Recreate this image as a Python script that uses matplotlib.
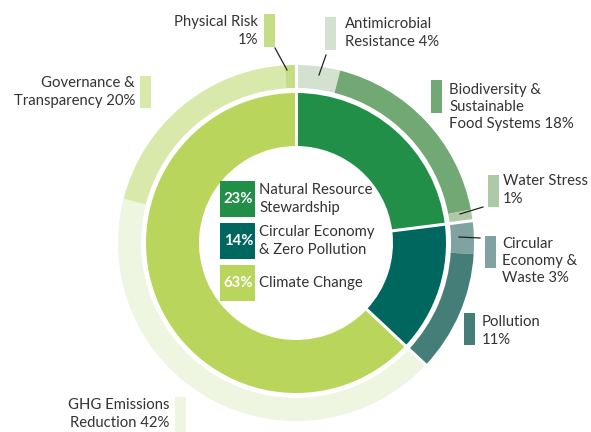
import numpy as np
import matplotlib
matplotlib.use("Agg")
import matplotlib.pyplot as plt
from matplotlib.patches import Rectangle

# ---------------- data ----------------
inner_labels = ["Natural Resource\nStewardship", "Circular Economy\n& Zero Pollution", "Climate Change"]
inner_values = [23, 14, 63]
inner_colors = ["#218f47", "#00675f", "#b9d55c"]

outer_labels = ["Antimicrobial\nResistance 4%", "Biodiversity &\nSustainable\nFood Systems 18%",
                "Water Stress\n1%", "Circular\nEconomy &\nWaste 3%", "Pollution\n11%",
                "GHG Emissions\nReduction 42%", "Governance &\nTransparency 20%", "Physical Risk\n1%"]
outer_values = [4, 18, 1, 3, 11, 42, 20, 1]
outer_colors = ["#d4e1d1", "#72a873", "#aec9a7", "#80a2a0", "#457d79",
                "#eef5e0", "#d9e8ab", "#c4de86"]

W, H = 591, 432
plt.rcParams['font.family'] = ['Lato', 'DejaVu Sans']
fig = plt.figure(figsize=(W / 100, H / 100), dpi=100)
ax = fig.add_axes([0, 0, 1, 1])

def P(x, y):
    return (x, H - y)

cx, cy = 296, 243
R_out, w_out = 178, 23
R_in, w_in = 150, 53

ax.pie(outer_values, radius=R_out, center=P(cx, cy), startangle=90, counterclock=False,
       colors=outer_colors, wedgeprops=dict(width=w_out, linewidth=0))
ax.pie(inner_values, radius=R_in, center=P(cx, cy), startangle=90, counterclock=False,
       colors=inner_colors, wedgeprops=dict(width=w_in, linewidth=0))

# white separators at the inner category boundaries (through both rings)
bounds = np.concatenate([[0], np.cumsum(inner_values)[:-1]])
for b in bounds:
    ang = np.deg2rad(90 - b / sum(inner_values) * 360)
    r0, r1 = R_in - w_in - 1, R_out + 1
    x0, y0 = P(cx, cy)
    ax.plot([x0 + r0 * np.cos(ang), x0 + r1 * np.cos(ang)],
            [y0 + r0 * np.sin(ang), y0 + r1 * np.sin(ang)],
            color="white", lw=2.2, solid_capstyle="butt")

ax.set_xlim(0, W)
ax.set_ylim(0, H)
ax.set_aspect("equal")
ax.axis("off")

txt = "#333333"
fs = 10.7

def swatch(x0, y0, x1, y1, color):
    ax.add_patch(Rectangle(P(x0, y1), x1 - x0, y1 - y0, color=color, lw=0))

# outer labels: (swatch box, text pos, ha, leader line)
specs = [
    ((325, 17, 336, 50), (345, 33), "left", ((326, 55), (319, 75))),
    ((431, 80, 442, 113), (449, 107), "left", None),
    ((488, 175, 499, 207), (503, 190), "left", ((483, 207), (460, 214))),
    ((485, 236, 496, 268), (502, 261), "left", ((480, 238), (459, 237))),
    ((464, 313, 475, 345), (482, 331), "left", None),
    ((175, 397, 186, 432), (169, 414), "right", None),
    ((140, 76, 151, 108), (135, 92), "right", None),
    ((264, 14, 275, 47), (258, 31), "right", ((275, 48), (287, 70))),
]
for (box, tp, ha, line), lab, col in zip(specs, outer_labels, outer_colors):
    swatch(*box, col)
    ax.text(*P(*tp), lab, ha=ha, va="center", fontsize=fs, color=txt, linespacing=1.3)
    if line:
        (a, b), (c, d) = line
        ax.plot([a, c], [H - b, H - d], color="#222222", lw=0.9)

# centre legend
leg_boxes = [(220, 181, 255, 217), (220, 223, 255, 259), (220, 265, 255, 301)]
for box, lab, val, col in zip(leg_boxes, inner_labels, inner_values, inner_colors):
    swatch(*box, col)
    xm = (box[0] + box[2]) / 2
    ym = (box[1] + box[3]) / 2
    ax.text(*P(xm + 1, ym), f"{val}%", ha="center", va="center", fontsize=fs,
            color="white", fontweight="bold")
    ax.text(*P(259, ym), lab, ha="left", va="center", fontsize=fs, color=txt, linespacing=1.3)

fig.savefig("out.png", dpi=100)
